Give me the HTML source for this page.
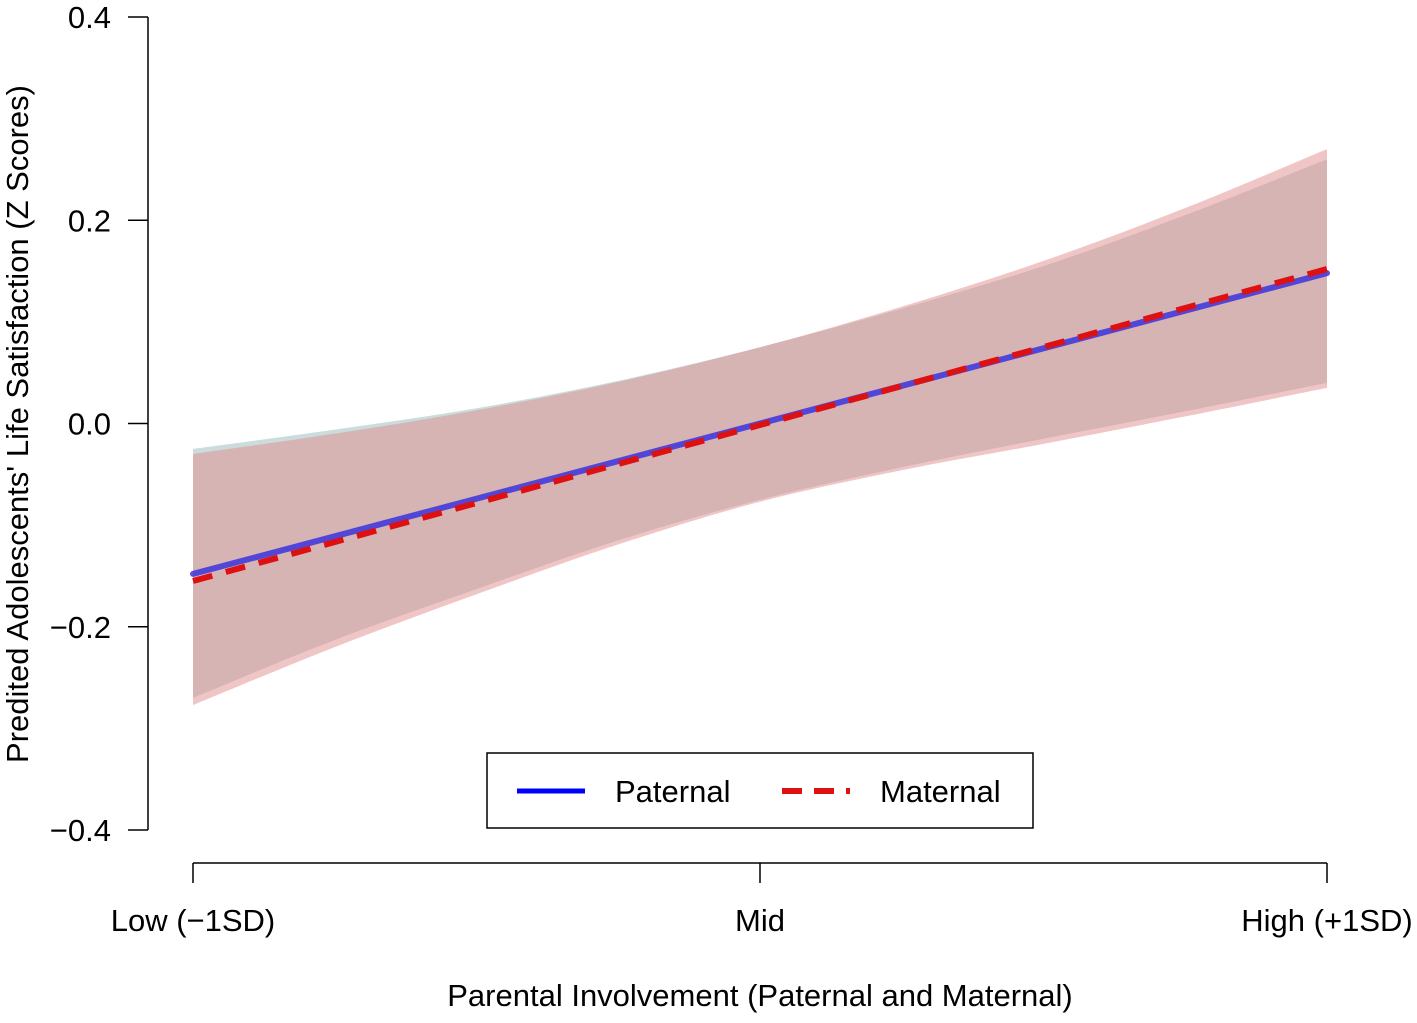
<!DOCTYPE html>
<html><head><meta charset="utf-8"><style>
body{margin:0;background:#fff}
text{font-family:"Liberation Sans",Arial,sans-serif;fill:#000}
</style></head><body>
<svg id="chart" width="1417" height="1018" xmlns="http://www.w3.org/2000/svg">
<g id="bands"></g>
<g id="lines"></g>
<g id="axes"></g>
<text x="28" y="424" font-size="31" text-anchor="middle" transform="rotate(-90 28 424)">Predited Adolescents' Life Satisfaction (Z Scores)</text>
<text x="760" y="1006" font-size="31" text-anchor="middle">Parental Involvement (Paternal and Maternal)</text>
<g>
<rect x="487" y="753" width="546" height="75" fill="#fff" stroke="#000" stroke-width="1.5"/>
<line x1="517" y1="791" x2="585" y2="791" stroke="#0000ff" stroke-width="5"/>
<text x="615" y="802" font-size="31">Paternal</text>
<line x1="782" y1="791" x2="850" y2="791" stroke="#dd1111" stroke-width="6" stroke-dasharray="20,12"/>
<text x="880" y="802" font-size="31">Maternal</text>
</g>
</svg>
<script>
const xVals=[-1,-0.75,-0.5,-0.25,0,0.25,0.5,0.75,1];
const xTickLabels=["Low (\u22121SD)","Mid","High (+1SD)"];
const xTickVals=[-1,0,1];
const yTickVals=[-0.4,-0.2,0,0.2,0.4];
const yTickLabels=["\u22120.4","\u22120.2","0.0","0.2","0.4"];
const fitX=[-1,1];
const paternalFit=[-0.148,0.148];
const maternalFit=[-0.155,0.152];
const paternalUpper=[-0.025,-0.006,0.015,0.042,0.075,0.113,0.155,0.205,0.26];
const paternalLower=[-0.27,-0.213,-0.163,-0.115,-0.075,-0.043,-0.015,0.012,0.04];
const maternalUpper=[-0.03,-0.01,0.013,0.041,0.075,0.115,0.16,0.212,0.27];
const maternalLower=[-0.277,-0.22,-0.168,-0.119,-0.077,-0.046,-0.02,0.007,0.035];
const X=v=>193+(v+1)*(1327-193)/2;
const Y=v=>423.5-v*(813/0.8);
const NS="http://www.w3.org/2000/svg";
function mk(t,a,p){const e=document.createElementNS(NS,t);for(const k in a)e.setAttribute(k,a[k]);p.appendChild(e);return e;}
function smooth(xs,ys){
  const pts=xs.map((x,i)=>[X(x),Y(ys[i])]);
  let d="M"+pts[0][0]+","+pts[0][1];
  for(let i=0;i<pts.length-1;i++){
    const p0=pts[Math.max(i-1,0)],p1=pts[i],p2=pts[i+1],p3=pts[Math.min(i+2,pts.length-1)];
    d+=" C"+(p1[0]+(p2[0]-p0[0])/6)+","+(p1[1]+(p2[1]-p0[1])/6)+" "+(p2[0]-(p3[0]-p1[0])/6)+","+(p2[1]-(p3[1]-p1[1])/6)+" "+p2[0]+","+p2[1];
  }
  return d;
}
function band(up,lo){
  const a=smooth(xVals,up);
  const b=smooth(xVals.slice().reverse(),lo.slice().reverse()).replace("M","L");
  return a+" "+b+" Z";
}
const bands=document.getElementById('bands');
const b1=mk('path',{d:band(paternalUpper,paternalLower),fill:'rgb(150,185,185)','fill-opacity':'0.5'},bands);


const b2=mk('path',{d:band(maternalUpper,maternalLower),fill:'rgb(225,140,140)','fill-opacity':'0.5'},bands);


const lines=document.getElementById('lines');
const l1=mk('line',{x1:X(fitX[0]),y1:Y(paternalFit[0]),x2:X(fitX[1]),y2:Y(paternalFit[1]),stroke:'#3a33dd','stroke-width':6,'stroke-opacity':'0.85','stroke-linecap':'round'},lines);


const l2=mk('line',{x1:X(fitX[0]),y1:Y(maternalFit[0]),x2:X(fitX[1]),y2:Y(maternalFit[1]),stroke:'#dd1111','stroke-width':6,'stroke-dasharray':'20,14'},lines);


const ax=document.getElementById('axes');
const ya=mk('line',{x1:148,y1:Y(0.4),x2:148,y2:Y(-0.4),stroke:'#000','stroke-width':1.5},ax);


yTickVals.forEach((v,i)=>{
  mk('line',{x1:128,y1:Y(v),x2:148,y2:Y(v),stroke:'#000','stroke-width':1.5},ax);
  const t=mk('text',{x:111,y:Y(v)+11,'font-size':31,'text-anchor':'end'},ax);
  t.textContent=yTickLabels[i];
  
  
});
const xa=mk('line',{x1:X(-1),y1:863,x2:X(1),y2:863,stroke:'#000','stroke-width':1.5},ax);


xTickVals.forEach((v,i)=>{
  mk('line',{x1:X(v),y1:863,x2:X(v),y2:883,stroke:'#000','stroke-width':1.5},ax);
  const t=mk('text',{x:X(v),y:931,'font-size':31,'text-anchor':'middle'},ax);
  t.textContent=xTickLabels[i];
  
  
});
</script>
</body></html>
